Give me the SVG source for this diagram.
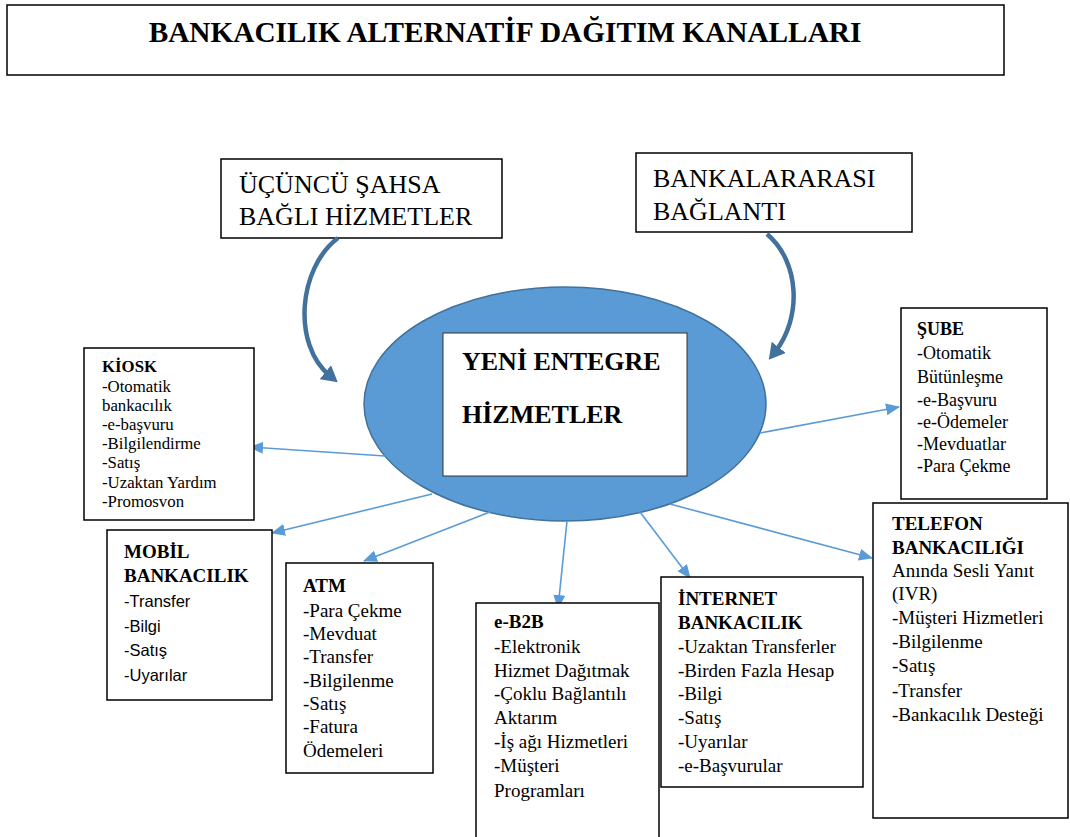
<svg xmlns="http://www.w3.org/2000/svg" width="1070" height="837" viewBox="0 0 1070 837">
<defs>
<marker id="ah" markerUnits="userSpaceOnUse" markerWidth="14" markerHeight="12" refX="13" refY="6" orient="auto"><path d="M0,0 L14,6 L0,12 z" fill="#5B9BD5"/></marker>
<marker id="ch" markerUnits="userSpaceOnUse" markerWidth="16" markerHeight="18" refX="6" refY="9" orient="auto"><path d="M0,0 L16,9 L0,18 z" fill="#41719C"/></marker>
</defs>
<style>
.box{fill:#fff;stroke:#000;stroke-width:1.5}
.t{font-family:"Liberation Serif","Times New Roman",serif;fill:#000}
.b{font-weight:bold}
.s{font-family:"Liberation Sans",Arial,sans-serif;fill:#000}
.arr{stroke:#5B9BD5;stroke-width:1.6;fill:none;marker-end:url(#ah)}
.carr{stroke:#41719C;stroke-width:4.5;fill:none;marker-end:url(#ch)}
</style>
<rect width="1070" height="837" fill="#fff"/>
<g id="title">
<rect class="box" x="7" y="5" width="997" height="70"/>
<text class="t b" x="505" y="42" font-size="29.3" text-anchor="middle">BANKACILIK ALTERNATİF DAĞITIM KANALLARI</text>
</g>
<g id="ucuncu">
<rect class="box" x="221" y="159" width="281" height="79"/>
<text class="t" x="239" y="193" font-size="26">ÜÇÜNCÜ ŞAHSA</text>
<text class="t" x="239" y="225" font-size="26">BAĞLI HİZMETLER</text>
</g>
<g id="bankalararasi">
<rect class="box" x="636" y="153" width="276" height="79"/>
<text class="t" x="653" y="187" font-size="26">BANKALARARASI</text>
<text class="t" x="653" y="220" font-size="26">BAĞLANTI</text>
</g>
<g id="center">
<ellipse cx="565" cy="404" rx="201" ry="117" fill="#5B9BD5" stroke="#41719C" stroke-width="1.5"/>
<rect x="443" y="333" width="244" height="143" fill="#fff" stroke="#333" stroke-width="1"/>
<text class="t b" x="462" y="370" font-size="26">YENİ ENTEGRE</text>
<text class="t b" x="462" y="423" font-size="26">HİZMETLER</text>
</g>
<g id="connectors">
<path class="carr" d="M338,238 C298,268 292,345 330,376"/>
<path class="carr" d="M767,234 C800,262 802,318 775,352"/>
<line class="arr" x1="385" y1="456" x2="250" y2="447"/>
<line class="arr" x1="432" y1="494" x2="272" y2="533"/>
<line class="arr" x1="490" y1="512" x2="364" y2="561"/>
<line class="arr" x1="567" y1="521" x2="558" y2="608"/>
<line class="arr" x1="640" y1="512" x2="690" y2="578"/>
<line class="arr" x1="670" y1="504" x2="872" y2="558"/>
<line class="arr" x1="760" y1="433" x2="899" y2="407"/>
</g>
<g id="kiosk">
<rect class="box" x="84" y="348" width="170" height="172"/>
<text class="t" x="102" font-size="16.8">
<tspan class="b" x="102" y="372">KİOSK</tspan>
<tspan x="102" y="392">-Otomatik</tspan>
<tspan x="102" y="411">bankacılık</tspan>
<tspan x="102" y="430">-e-başvuru</tspan>
<tspan x="102" y="449">-Bilgilendirme</tspan>
<tspan x="102" y="468">-Satış</tspan>
<tspan x="102" y="488">-Uzaktan Yardım</tspan>
<tspan x="102" y="507">-Promosvon</tspan>
</text>
</g>
<g id="mobil">
<rect class="box" x="107" y="530" width="165" height="170"/>
<text class="t b" x="124" y="558" font-size="19">MOBİL</text>
<text class="t b" x="124" y="582" font-size="19">BANKACILIK</text>
<text class="s" font-size="16.5">
<tspan x="124" y="607">-Transfer</tspan>
<tspan x="124" y="632">-Bilgi</tspan>
<tspan x="124" y="656">-Satış</tspan>
<tspan x="124" y="681">-Uyarılar</tspan>
</text>
</g>
<g id="atm">
<rect class="box" x="286" y="563" width="147" height="210"/>
<text class="t" font-size="19">
<tspan class="b" x="303" y="592">ATM</tspan>
<tspan x="303" y="617">-Para Çekme</tspan>
<tspan x="303" y="640">-Mevduat</tspan>
<tspan x="303" y="663">-Transfer</tspan>
<tspan x="303" y="687">-Bilgilenme</tspan>
<tspan x="303" y="710">-Satış</tspan>
<tspan x="303" y="733">-Fatura</tspan>
<tspan x="303" y="757">Ödemeleri</tspan>
</text>
</g>
<g id="eb2b">
<rect class="box" x="476" y="603" width="183" height="240"/>
<text class="t" font-size="19">
<tspan class="b" x="494" y="628">e-B2B</tspan>
<tspan x="494" y="653">-Elektronik</tspan>
<tspan x="494" y="677">Hizmet Dağıtmak</tspan>
<tspan x="494" y="700">-Çoklu Bağlantılı</tspan>
<tspan x="494" y="724">Aktarım</tspan>
<tspan x="494" y="748">-İş ağı Hizmetleri</tspan>
<tspan x="494" y="772">-Müşteri</tspan>
<tspan x="494" y="797">Programları</tspan>
</text>
</g>
<g id="internet">
<rect class="box" x="661" y="577" width="202" height="210"/>
<text class="t" font-size="19">
<tspan class="b" x="678" y="605">İNTERNET</tspan>
<tspan class="b" x="678" y="629">BANKACILIK</tspan>
<tspan x="678" y="653">-Uzaktan Transferler</tspan>
<tspan x="678" y="677">-Birden Fazla Hesap</tspan>
<tspan x="678" y="700">-Bilgi</tspan>
<tspan x="678" y="724">-Satış</tspan>
<tspan x="678" y="748">-Uyarılar</tspan>
<tspan x="678" y="772">-e-Başvurular</tspan>
</text>
</g>
<g id="telefon">
<rect class="box" x="873" y="503" width="195" height="315"/>
<text class="t" font-size="19">
<tspan class="b" x="892" y="530">TELEFON</tspan>
<tspan class="b" x="892" y="554">BANKACILIĞI</tspan>
<tspan x="892" y="577">Anında Sesli Yanıt</tspan>
<tspan x="892" y="600">(IVR)</tspan>
<tspan x="892" y="624">-Müşteri Hizmetleri</tspan>
<tspan x="892" y="648">-Bilgilenme</tspan>
<tspan x="892" y="672">-Satış</tspan>
<tspan x="892" y="697">-Transfer</tspan>
<tspan x="892" y="721">-Bankacılık Desteği</tspan>
</text>
</g>
<g id="sube">
<rect class="box" x="901" y="308" width="146" height="191"/>
<text class="t" font-size="18">
<tspan class="b" x="917" y="335">ŞUBE</tspan>
<tspan x="917" y="359">-Otomatik</tspan>
<tspan x="917" y="383">Bütünleşme</tspan>
<tspan x="917" y="406">-e-Başvuru</tspan>
<tspan x="917" y="428">-e-Ödemeler</tspan>
<tspan x="917" y="450">-Mevduatlar</tspan>
<tspan x="917" y="472">-Para Çekme</tspan>
</text>
</g>
</svg>
